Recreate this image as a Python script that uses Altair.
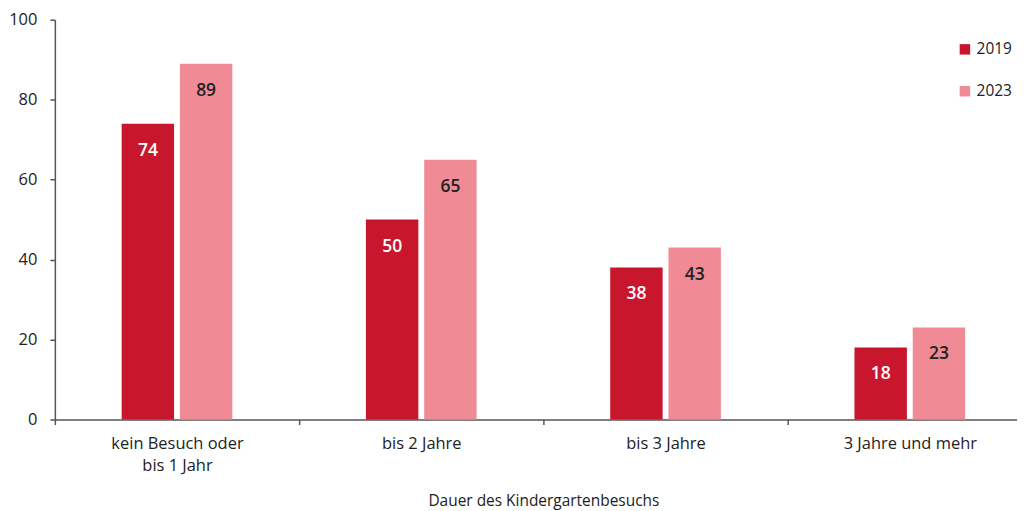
import altair as alt
import pandas as pd

categories = ["kein Besuch oder bis 1 Jahr", "bis 2 Jahre", "bis 3 Jahre", "3 Jahre und mehr"]
years = ["2019", "2023"]
values_2019 = [74, 50, 38, 18]
values_2023 = [89, 65, 43, 23]

rows = []
for c, v19, v23 in zip(categories, values_2019, values_2023):
    rows.append({"cat": c, "year": "2019", "value": v19})
    rows.append({"cat": c, "year": "2023", "value": v23})
df = pd.DataFrame(rows)

FONT = "Open Sans"
C19 = "#C8162D"
C23 = "#F08B96"

x = alt.X(
    "cat:N",
    sort=categories,
    scale=alt.Scale(range=[0, 980], paddingInner=0, paddingOuter=0),
    axis=alt.Axis(
        title="Dauer des Kindergartenbesuchs",
        labelAngle=0,
        labelExpr="datum.value == 'kein Besuch oder bis 1 Jahr' ? ['kein Besuch oder', 'bis 1 Jahr'] : datum.label",
        tickBand="extent",
        tickSize=5,
        labelPadding=11,
        labelFontSize=16.5,
        labelLineHeight=22,
        titlePadding=20,
    ),
)
xo = alt.XOffset("year:N", sort=years, scale=alt.Scale(range=[67, 178], paddingInner=0.1, paddingOuter=0))

y = alt.Y(
    "value:Q",
    scale=alt.Scale(domain=[0, 100], nice=False),
    axis=alt.Axis(title=None, values=[0, 20, 40, 60, 80, 100], grid=False, tickSize=5, labelPadding=13,
                  labelFontSize=16.5),
)

bars = alt.Chart(df).mark_bar().encode(
    x=x,
    xOffset=xo,
    y=y,
    color=alt.Color(
        "year:N",
        sort=years,
        scale=alt.Scale(domain=years, range=[C19, C23]),
        legend=alt.Legend(
            title=None,
            orient="none",
            legendX=905,
            legendY=22,
            symbolType="square",
            symbolSize=110,
            symbolStrokeWidth=0,
            labelFontSize=15.5,
            labelFont=FONT,
            labelColor="#222222",
            labelOffset=4,
            rowPadding=25,
        ),
    ),
)

text = alt.Chart(df).mark_text(dy=27, fontSize=17.5, fontWeight=600, font=FONT, baseline="middle").encode(
    x=x,
    xOffset=xo,
    y=y,
    text="value:Q",
    color=alt.condition("datum.year == '2019'", alt.value("white"), alt.value("#222222")),
)

chart = (
    alt.layer(bars, text)
    .properties(
        width=965,
        height=401,
        autosize=alt.AutoSizeParams(type="none"),
        padding={"left": 47, "top": 11, "right": 0, "bottom": 90},
    )
    .configure_view(stroke=None)
    .configure_axis(
        labelFont=FONT,
        titleFont=FONT,
        titleFontSize=15.5,
        titleFontWeight="normal",
        labelColor="#222222",
        titleColor="#222222",
        domainColor="#555555",
        tickColor="#555555",
        domainWidth=1.5,
        tickWidth=1.5,
    )
)

chart.save("out.html", embed_options={"renderer": "svg", "actions": False})
